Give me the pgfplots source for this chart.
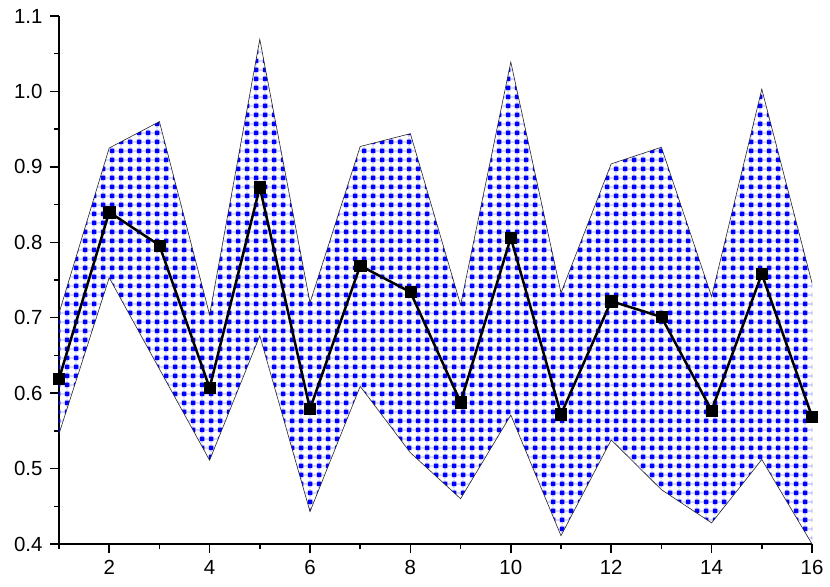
\documentclass[border=0pt]{standalone}
\usepackage{fontspec}
\setmainfont{Liberation Sans}
\usepackage{pgfplots}
\pgfplotsset{compat=1.18}
\usepgfplotslibrary{fillbetween}
\usetikzlibrary{patterns}

\definecolor{lav}{RGB}{195,195,255}

% Origin-like blue check: lavender grid with blue squares on it
\pgfdeclarepatterninherentlycolored{bluecheck}
{\pgfpointorigin}{\pgfqpoint{9bp}{9bp}}
{\pgfqpoint{9bp}{9bp}}
{
  \pgfsetfillcolor{lav}
  \pgfpathrectangle{\pgfqpoint{0bp}{3.75bp}}{\pgfqpoint{9bp}{1.5bp}}
  \pgfusepath{fill}
  \pgfpathrectangle{\pgfqpoint{3.75bp}{0bp}}{\pgfqpoint{1.5bp}{9bp}}
  \pgfusepath{fill}
  \pgfsetfillcolor{blue}
  \pgfpathrectangle{\pgfqpoint{2bp}{2bp}}{\pgfqpoint{5bp}{5bp}}
  \pgfusepath{fill}
}

\pgfplotstableread{
x    m      up     lo
1    0.619  0.706  0.546
2    0.840  0.925  0.753
3    0.796  0.960  0.632
4    0.607  0.704  0.511
5    0.873  1.069  0.676
6    0.579  0.720  0.443
7    0.769  0.927  0.609
8    0.734  0.944  0.521
9    0.588  0.717  0.460
10   0.806  1.039  0.571
11   0.572  0.733  0.411
12   0.722  0.904  0.538
13   0.701  0.926  0.472
14   0.577  0.728  0.428
15   0.758  1.003  0.512
16   0.569  0.746  0.400
}\band

\begin{document}
\begin{tikzpicture}
\begin{axis}[
    scale only axis,
    width=753bp, height=528bp,
    xmin=1, xmax=16, ymin=0.4, ymax=1.1,
    axis lines=left,
    axis line style={-, line width=1.5bp},
    clip=false,
    xtick={2,4,...,16},
    minor xtick={1,3,...,15},
    ytick={0.4,0.5,0.6,0.7,0.8,0.9,1.0,1.1},
    minor ytick={0.45,0.55,0.65,0.75,0.85,0.95,1.05},
    tick align=outside,
    major tick length=9bp,
    minor tick length=5bp,
    every tick/.style={black, line width=1.5bp},
    tick label style={font=\fontsize{20.5}{23}\selectfont},
    /pgf/number format/assume math mode=true,
    xticklabel style={yshift=-4bp},
    yticklabel style={xshift=-4bp, /pgf/number format/.cd, fixed, fixed zerofill, precision=1},
]
\addplot[draw=none, name path=up, forget plot] table[x=x, y=up] {\band};
\addplot[draw=none, name path=lo, forget plot] table[x=x, y=lo] {\band};
\addplot[pattern=bluecheck, draw=none] fill between[of=up and lo];
\addplot[black!85, line width=0.6bp] table[x=x, y=up] {\band};
\addplot[black!85, line width=0.6bp] table[x=x, y=lo] {\band};
\addplot[black, line width=2.5bp, mark=square*, mark size=5.6bp,
         mark options={solid, line width=0.4bp}] table[x=x, y=m] {\band};
\end{axis}
\path (-59bp,-42.7bp) rectangle (771bp,544bp);
\end{tikzpicture}
\end{document}
